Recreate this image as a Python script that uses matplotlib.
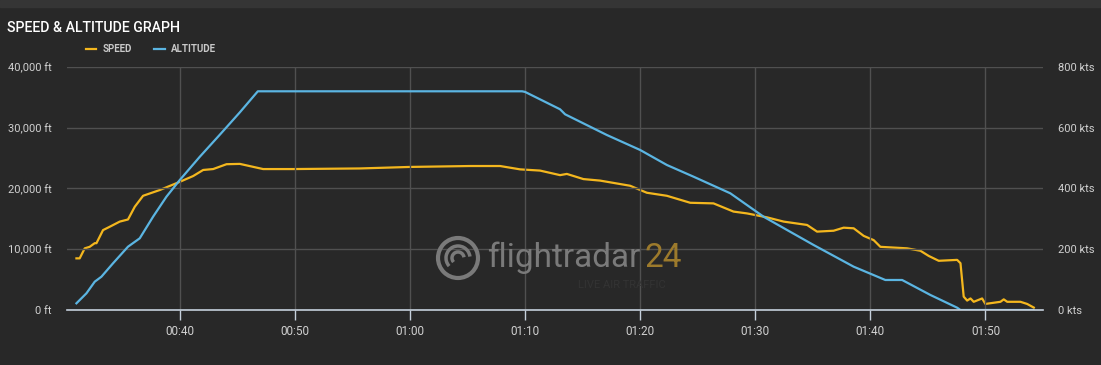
import matplotlib
matplotlib.use('Agg')
import matplotlib.pyplot as plt
from matplotlib.patches import Ellipse, Arc
from matplotlib.ticker import FuncFormatter

plt.rcParams['font.family'] = ['Roboto', 'DejaVu Sans']

# minutes after 00:00
alt_time = [31.02, 31.89, 32.61, 33.19, 34.20, 35.50, 36.52, 37.68, 38.84, 40.0,
            41.74, 43.5, 45.2, 46.78, 69.74, 70.0, 73.04, 73.48, 74.78, 77.10,
            80.0, 82.32, 84.63, 87.83, 90.72, 92.76, 95.07, 98.55, 101.30, 102.76,
            105.22, 107.54, 107.83, 114.17]
altitude = [1100, 2750, 4660, 5480, 7690, 10420, 11800, 15360, 18650, 21400,
            25230, 28900, 32500, 36000, 36000, 35900, 33040, 32210, 30990, 28810,
            26340, 23870, 21950, 19210, 15360, 13170, 10700, 7130, 4940, 4940,
            2470, 380, 0, 0]

spd_time = [31.02, 31.30, 31.74, 32.17, 32.61, 32.76, 33.33, 33.91, 34.78, 35.50,
            36.09, 36.81, 38.26, 40.0, 41.16, 42.03, 42.90, 44.06, 45.22, 47.24,
            49.85, 55.65, 60.0, 65.22, 67.83, 69.57, 71.30, 73.04, 73.63, 75.07,
            76.52, 79.13, 80.58, 82.32, 84.35, 86.37, 88.11, 89.28, 91.02, 92.47,
            94.50, 95.37, 96.81, 97.68, 98.55, 99.42, 100.29, 100.87, 103.19, 104.35,
            105.07, 105.94, 107.54, 107.83, 108.11, 108.41, 108.70, 108.98, 109.71, 110.0,
            111.30, 111.59, 111.89, 113.04, 113.62, 114.20]
speed = [170, 170, 203, 208, 220, 220, 263, 274, 291, 298,
         340, 376, 395, 422, 441, 461, 464, 480, 481, 464,
         464, 466, 471, 474, 474, 463, 459, 444, 448, 431,
         426, 409, 386, 376, 353, 351, 324, 318, 305, 291,
         280, 258, 261, 271, 269, 244, 230, 208, 203, 195,
         178, 162, 165, 154, 44, 31, 38, 27, 38, 20,
         27, 35, 27, 27, 20, 8]

x_ticks = [40, 50, 60, 70, 80, 90, 100, 110]
alt_ticks = [0, 10000, 20000, 30000, 40000]
spd_ticks = [0, 200, 400, 600, 800]

BG = '#282828'
GRID = '#505050'
LABEL = '#d0d0d0'
SPEED_C = '#f4b71e'
ALT_C = '#5bb5e2'

fig = plt.figure(figsize=(11.01, 3.65), dpi=100, facecolor=BG)
ax = fig.add_axes([67/1101, 1-310/365, (1043-67)/1101, (310-67)/365])
ax2 = ax.twinx()
ax.set_zorder(ax2.get_zorder() + 1)
ax.patch.set_visible(False)
ax2.set_facecolor(BG)

# top strip
fig.patches.append(plt.Rectangle((0, 1-7/365), 1, 7/365, transform=fig.transFigure,
                                 color='#353535', zorder=0))

l_spd, = ax2.plot(spd_time, speed, color=SPEED_C, lw=1.6, solid_joinstyle='round')
l_alt, = ax.plot(alt_time, altitude, color=ALT_C, lw=1.6, solid_joinstyle='round')

ax.set_xlim(30.2, 115.0)
ax.set_ylim(0, 40000)
ax2.set_ylim(0, 800)
ax.set_xticks(x_ticks)
ax.set_yticks(alt_ticks)
ax2.set_yticks(spd_ticks)
ax.xaxis.set_major_formatter(FuncFormatter(lambda v, p: '%02d:%02d' % (v // 60, v % 60)))
ax.yaxis.set_major_formatter(FuncFormatter(lambda v, p: '{:,.0f} ft'.format(v)))
ax2.yaxis.set_major_formatter(FuncFormatter(lambda v, p: '{:.0f} kts'.format(v)))

ax.grid(True, color=GRID, lw=1)
for a in (ax, ax2):
    for s in a.spines.values():
        s.set_visible(False)
ax.spines['bottom'].set_visible(True)
ax.spines['bottom'].set_color('#c5d0dc')
ax.spines['bottom'].set_linewidth(1.2)

ax.tick_params(axis='x', colors='#c5d0dc', length=7, width=1, labelcolor=LABEL,
               labelsize=8.5, pad=4)
ax.tick_params(axis='y', length=0, labelcolor=LABEL, labelsize=8, pad=11)
ax2.tick_params(axis='y', length=0, labelcolor=LABEL, labelsize=8, pad=11)
ax2.tick_params(axis='x', length=0)

fig.text(7/1101, 1-28/365, 'SPEED & ALTITUDE GRAPH', color='white', fontsize=10.2,
         va='center', ha='left', weight='medium')

leg = fig.legend([l_spd, l_alt], ['SPEED', 'ALTITUDE'], loc='center left',
                 bbox_to_anchor=(77/1101, 1-49/365), ncol=2, frameon=False,
                 handlelength=1.1, handletextpad=0.6, columnspacing=2.3,
                 prop={'size': 7, 'weight': 'bold'})
for t in leg.get_texts():
    t.set_color('#c8c8c8')

# flightradar24 watermark
wm = '#7a7a7a'
cx, cy = 458/1101, 1-258/365
r = 20/365
aspect = 365/1101
fig.patches.append(Ellipse((cx, cy), 2*r*aspect, 2*r, transform=fig.transFigure,
                           fill=False, ec=wm, lw=3, zorder=1))
fig.patches.append(Arc((cx, cy), 1.2*r*aspect, 1.2*r, theta1=20, theta2=250,
                       transform=fig.transFigure, ec=wm, lw=2.5, zorder=1))
fig.patches.append(Arc((cx, cy), 0.6*r*aspect, 0.6*r, theta1=20, theta2=250,
                       transform=fig.transFigure, ec=wm, lw=2.5, zorder=1))
fig.text(487/1101, cy, 'flightradar', color=wm, fontsize=24, va='center', ha='left')
fig.text(644/1101, cy, '24', color='#9c7a2c', fontsize=24, va='center', ha='left')
fig.text(578/1101, 1-285/365, 'LIVE AIR TRAFFIC', color='#333333', fontsize=8,
         va='center', ha='left')

plt.savefig('out.png', dpi=100, facecolor=BG)
